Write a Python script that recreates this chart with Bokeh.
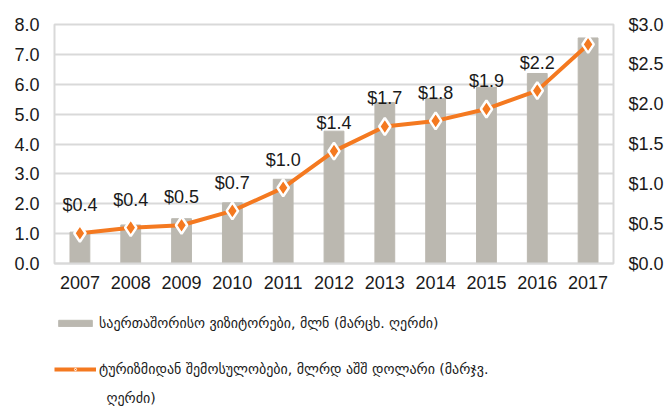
from bokeh.plotting import figure
from bokeh.layouts import column
from bokeh.models import Range1d, LinearAxis, Legend, LegendItem, ColumnDataSource, FixedTicker, CustomJSTickFormatter, Label
from bokeh.embed import file_html
from bokeh.resources import INLINE
from bokeh.core.properties import value

years = ["2007", "2008", "2009", "2010", "2011", "2012", "2013", "2014", "2015", "2016", "2017"]
visitors = [1.05, 1.29, 1.50, 2.03, 2.82, 4.43, 5.39, 5.52, 5.90, 6.36, 7.55]
revenue = [0.38, 0.45, 0.48, 0.66, 0.95, 1.41, 1.72, 1.79, 1.94, 2.17, 2.75]
revenue_labels = ["$0.4", "$0.4", "$0.5", "$0.7", "$1.0", "$1.4", "$1.7", "$1.8", "$1.9", "$2.2", "$2.7"]
visitors_name = "საერთაშორისო ვიზიტორები, მლნ (მარცხ. ღერძი)"
revenue_name_lines = ["ტურიზმიდან შემოსულობები, მლრდ აშშ დოლარი (მარჯვ.", "ღერძი)"]

BAR = "#bbb8b0"
ORANGE = "#f47920"
GRID = "#d9d9d9"
FONT = "Liberation Sans"
GEO_FONT = "DejaVu Sans"

src = ColumnDataSource(dict(year=years, visitors=visitors, revenue=revenue, lbl=revenue_labels))

p = figure(x_range=years, y_range=Range1d(0, 8),
           frame_width=559, frame_height=239,
           output_backend="svg", toolbar_location=None,
           min_border_left=54, min_border_right=54, min_border_top=24, min_border_bottom=40)
p.extra_y_ranges = {"rev": Range1d(0, 3)}

p.vbar(x="year", top="visitors", width=0.39, source=src, color=BAR)
p.line(x="year", y="revenue", source=src, y_range_name="rev", color=ORANGE, line_width=4)
p.scatter(x="year", y="revenue", source=src, y_range_name="rev", marker="diamond",
          size=17, fill_color=ORANGE, line_color="white", line_width=2.5)
p.text(x="year", y="revenue", text="lbl", source=src, y_range_name="rev",
       text_align="center", text_baseline="middle", y_offset=-28,
       text_font=value(FONT), text_font_size="18px", text_color="#1a1a1a")

p.outline_line_color = GRID
p.outline_line_width = 2
p.xgrid.grid_line_color = None
p.ygrid.grid_line_color = GRID
p.ygrid.grid_line_width = 2
p.yaxis.ticker = FixedTicker(ticks=[0, 1, 2, 3, 4, 5, 6, 7, 8])
p.yaxis.formatter = CustomJSTickFormatter(code="return tick.toFixed(1);")

ax_r = LinearAxis(y_range_name="rev", ticker=FixedTicker(ticks=[0, 0.5, 1, 1.5, 2, 2.5, 3]),
                  formatter=CustomJSTickFormatter(code="return '$' + tick.toFixed(1);"))
p.add_layout(ax_r, "right")

for ax in [p.yaxis[0], ax_r, p.xaxis[0]]:
    ax.axis_line_color = None
    ax.major_tick_line_color = None
    ax.minor_tick_line_color = None
    ax.major_tick_out = 0
    ax.major_tick_in = 0
    ax.minor_tick_out = 0
    ax.minor_tick_in = 0
    ax.major_label_text_font = FONT
    ax.major_label_text_font_size = "18px"
    ax.major_label_text_color = "#1a1a1a"
p.yaxis[0].major_label_standoff = 15
ax_r.major_label_standoff = 15
p.xaxis[0].major_label_standoff = 12
p.xaxis[0].axis_line_color = GRID
p.xaxis[0].axis_line_width = 2

# legend panel below the chart (legend swatches use off-screen proxy renderers)
lf = figure(width=667, height=104, x_range=Range1d(0, 1), y_range=Range1d(0, 1),
            output_backend="svg", toolbar_location=None,
            x_axis_type=None, y_axis_type=None,
            min_border_left=42, min_border_top=12, min_border_right=0, min_border_bottom=0)
lf.outline_line_color = None
lf.grid.grid_line_color = None
proxy = ColumnDataSource(dict(x=[float("nan")], y=[float("nan")]))
lb = lf.vbar(x="x", top="y", width=0.5, source=proxy, color=BAR)
ll = lf.line(x="x", y="y", source=proxy, color=ORANGE, line_width=4)
lm = lf.scatter(x="x", y="y", source=proxy, marker="diamond", size=9,
                fill_color=ORANGE, line_color="white", line_width=1)

legend = Legend(items=[LegendItem(label=visitors_name, renderers=[lb]),
                       LegendItem(label=revenue_name_lines[0], renderers=[ll, lm])],
                orientation="vertical", location="top_left",
                label_text_font=GEO_FONT, label_text_font_size="14px", label_text_color="#1a1a1a",
                glyph_width=42, glyph_height=8, spacing=30, padding=0, margin=0,
                border_line_color=None, background_fill_alpha=0,
                label_standoff=3)
lf.add_layout(legend, "center")
lf.add_layout(Label(x=52, y=10, x_units="screen", y_units="screen", text=revenue_name_lines[1],
                    text_font=GEO_FONT, text_font_size="14px", text_color="#1a1a1a",
                    text_baseline="middle"))

open("out.html", "w").write(file_html(column(p, lf, spacing=0), INLINE))
